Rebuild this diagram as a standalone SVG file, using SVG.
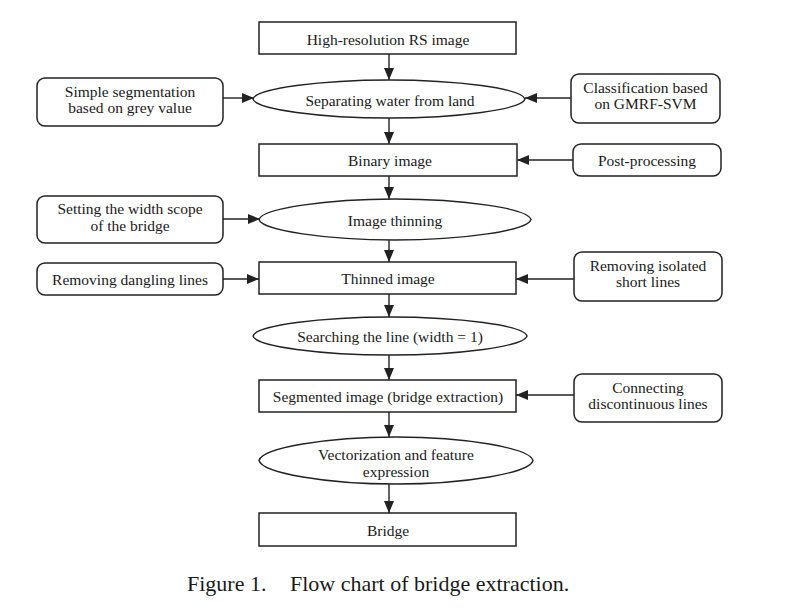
<svg xmlns="http://www.w3.org/2000/svg" width="787" height="615" viewBox="0 0 787 615">
<style>
  .box { fill: #fff; stroke: #222; stroke-width: 1.5; }
  .side { fill: #fff; stroke: #222; stroke-width: 1.5; }
  .ell { fill: #fff; stroke: #222; stroke-width: 1.4; }
  .t { font-family: "Liberation Serif", "Times New Roman", serif; font-size: 15.5px; fill: #1a1a1a; text-anchor: middle; }
  .cap { font-family: "Liberation Serif", "Times New Roman", serif; font-size: 22px; fill: #1a1a1a; }
  .conn line { stroke: #222; stroke-width: 1.4; marker-end: url(#arr); }
</style>
<defs>
  <marker id="arr" markerUnits="userSpaceOnUse" markerWidth="12" markerHeight="10" refX="12" refY="5" orient="auto">
    <path d="M0,0 L12,5 L0,10 z" fill="#222"/>
  </marker>
</defs>
<rect width="787" height="615" fill="#fff"/>

<g id="connectors" class="conn">
  <line x1="389" y1="54" x2="389" y2="80"/>
  <line x1="389" y1="118" x2="389" y2="144"/>
  <line x1="389" y1="176" x2="389" y2="199"/>
  <line x1="389" y1="240" x2="389" y2="262"/>
  <line x1="389" y1="294" x2="389" y2="317"/>
  <line x1="389" y1="355" x2="389" y2="380"/>
  <line x1="389" y1="412" x2="389" y2="437"/>
  <line x1="389" y1="484" x2="389" y2="513"/>
  <line x1="223" y1="98" x2="254" y2="98"/>
  <line x1="571" y1="98" x2="525" y2="98"/>
  <line x1="573" y1="160" x2="517" y2="160"/>
  <line x1="223" y1="219" x2="260" y2="219"/>
  <line x1="223" y1="279" x2="259" y2="279"/>
  <line x1="574" y1="279" x2="516" y2="279"/>
  <line x1="574" y1="395" x2="516" y2="395"/>
</g>

<g id="n-highres">
  <rect class="box" x="259" y="22" width="257" height="32"/>
  <text class="t" x="388" y="44.5">High-resolution RS image</text>
</g>
<g id="n-separating">
  <path class="ell" d="M253,99 C256,88.5 321,80 389,80 C457,80 522,88.5 525,99 C522,109.5 457,118 389,118 C321,118 256,109.5 253,99Z"/>
  <text class="t" x="390" y="105.5">Separating water from land</text>
</g>
<g id="n-simpleseg">
  <rect class="side" x="37" y="78" width="186" height="48" rx="8"/>
  <text class="t" x="130" y="97">Simple segmentation</text>
  <text class="t" x="130" y="113">based on grey value</text>
</g>
<g id="n-classification">
  <rect class="side" x="571" y="74" width="149" height="49" rx="8"/>
  <text class="t" x="645.5" y="93">Classification based</text>
  <text class="t" x="645.5" y="109">on GMRF-SVM</text>
</g>
<g id="n-binary">
  <rect class="box" x="259" y="144" width="258" height="32"/>
  <text class="t" x="390" y="166">Binary image</text>
</g>
<g id="n-postproc">
  <rect class="side" x="573" y="144" width="148" height="32" rx="8"/>
  <text class="t" x="647" y="166">Post-processing</text>
</g>
<g id="n-thinning">
  <path class="ell" d="M259,219.5 C262,208.5 327,199 395,199 C463,199 528,208.5 531,219.5 C528,230.5 463,240 395,240 C327,240 262,230.5 259,219.5Z"/>
  <text class="t" x="395" y="226">Image thinning</text>
</g>
<g id="n-widthscope">
  <rect class="side" x="37" y="196" width="186" height="47" rx="8"/>
  <text class="t" x="130" y="214">Setting the width scope</text>
  <text class="t" x="130" y="231">of the bridge</text>
</g>
<g id="n-thinned">
  <rect class="box" x="259" y="262" width="257" height="32"/>
  <text class="t" x="388" y="284">Thinned image</text>
</g>
<g id="n-dangling">
  <rect class="side" x="37" y="263" width="186" height="32" rx="8"/>
  <text class="t" x="130" y="285">Removing dangling lines</text>
</g>
<g id="n-isolated">
  <rect class="side" x="574" y="252" width="148" height="49" rx="8"/>
  <text class="t" x="648" y="271">Removing isolated</text>
  <text class="t" x="648" y="287">short lines</text>
</g>
<g id="n-searching">
  <path class="ell" d="M253,336 C256,325.5 321,317 390,317 C459,317 524,325.5 527,336 C524,346.5 459,355 390,355 C321,355 256,346.5 253,336Z"/>
  <text class="t" x="390" y="342">Searching the line (width = 1)</text>
</g>
<g id="n-segmented">
  <rect class="box" x="259" y="380" width="257" height="32"/>
  <text class="t" x="388" y="402">Segmented image (bridge extraction)</text>
</g>
<g id="n-connecting">
  <rect class="side" x="574" y="374" width="148" height="48" rx="8"/>
  <text class="t" x="648" y="393">Connecting</text>
  <text class="t" x="648" y="409">discontinuous lines</text>
</g>
<g id="n-vectorization">
  <path class="ell" d="M259,460.5 C262,448 327,437 396,437 C465,437 530,448 533,460.5 C530,473 465,484 396,484 C327,484 262,473 259,460.5Z"/>
  <text class="t" x="396" y="460">Vectorization and feature</text>
  <text class="t" x="396" y="477">expression</text>
</g>
<g id="n-bridge">
  <rect class="box" x="259" y="513" width="257" height="33"/>
  <text class="t" x="388" y="536">Bridge</text>
</g>

<text class="cap" x="187" y="591">Figure 1.</text>
<text class="cap" x="290" y="591">Flow chart of bridge extraction.</text>
</svg>
